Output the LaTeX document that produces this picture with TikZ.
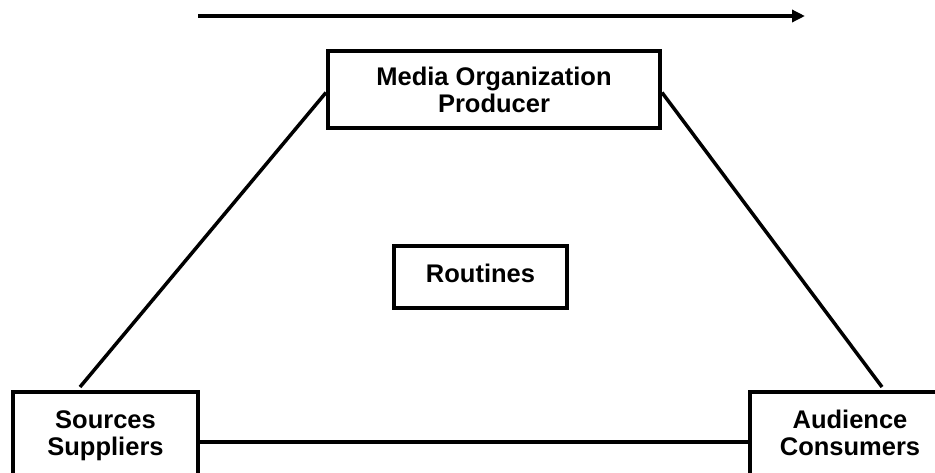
\documentclass[tikz,border=0pt]{standalone}
\usepackage{fontspec}
\setmainfont{Liberation Sans}
\usetikzlibrary{positioning,arrows.meta}
\tikzset{
  actor/.style={rectangle, draw=black, line width=4pt, fill=white,
    inner sep=0pt, align=center, font=\fontsize{25.5}{27}\selectfont\bfseries,
    execute at end node=\strut},
  myline/.style={draw, line width=3.5pt},
  myarrow/.style={draw, line width=3.5pt, -{Triangle[length=13pt,width=12pt]}},
}
\begin{document}
\begin{tikzpicture}[x=1pt,y=-1pt]
    \clip (0,0) rectangle (935,472);
    \useasboundingbox (0,0) rectangle (935,472);

    \node[actor, minimum width=332pt, minimum height=77pt, execute at end node=, text depth=-8pt] (media) at (494,89.5) {Media Organization\\Producer};
    \node[actor, minimum width=173pt, minimum height=62pt] (routines) at (480.5,277) {Routines};
    \node[actor, minimum width=185pt, minimum height=90pt] (sources) at (105.5,437) {Sources\\Suppliers};
    \node[actor, minimum width=200pt, minimum height=90pt] (audience) at (850,437) {Audience\\Consumers};

    \coordinate (srcTop) at (80,387);
    \coordinate (audTop) at (882,387);
    \coordinate (flowStart) at (198,16);
    \coordinate (flowEnd) at (805,16);

    \path[myarrow] (flowStart) -- (flowEnd);
    \path[myline] ([yshift=-3pt]media.west) -- (srcTop);
    \path[myline] ([yshift=-3pt]media.east) -- (audTop);
    \path[myline] ([yshift=-5pt]sources.east) -- ([yshift=-5pt]audience.west);
\end{tikzpicture}
\end{document}
